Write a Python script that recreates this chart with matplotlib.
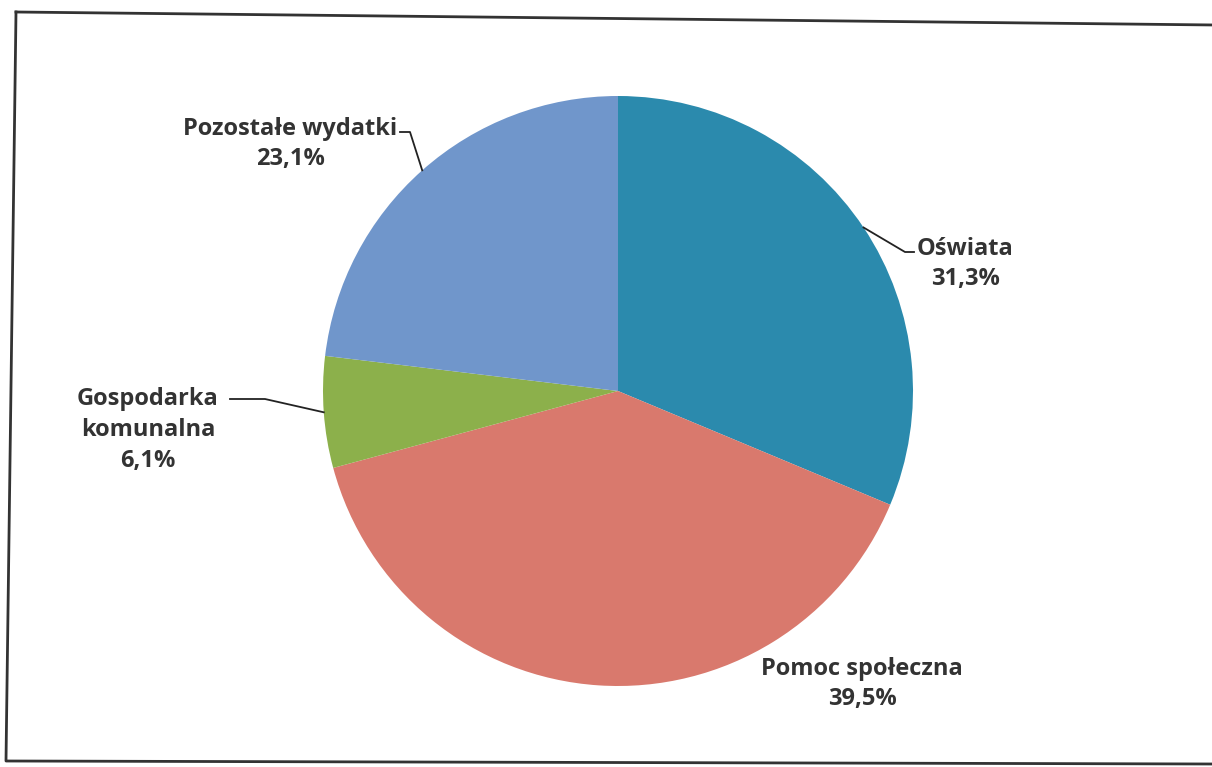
import numpy as np
from matplotlib import pyplot as plt

kategorie = ["Oświata", "Pomoc społeczna", "Gospodarka\nkomunalna", "Pozostałe wydatki"]
udzialy = [31.3, 39.5, 6.1, 23.1]
etykiety = ["31,3%", "39,5%", "6,1%", "23,1%"]
kolory = ["#2B8AAD", "#D9796D", "#8CB04B", "#7096CB"]

W, H = 1212, 767
fig = plt.figure(figsize=(W / 100, H / 100), dpi=100)
ax = fig.add_axes([0, 0, 1, 1])

cx, cy, r = 618, H - 391, 295
wedges, _ = ax.pie(udzialy, colors=kolory, startangle=90, counterclock=False,
                   center=(cx, cy), radius=r, frame=True,
                   wedgeprops=dict(linewidth=0))
ax.set_xlim(0, W)
ax.set_ylim(0, H)
ax.set_aspect("equal")
ax.axis("off")

# ramka ze skanu (lekko przekrzywiona)
ax.plot([16, 1215, 1215], [H - 12, H - 25, H - 25], color="#333333", lw=2)
ax.plot([16, 6, 1212], [H - 12, H - 761, H - 764], color="#333333", lw=2)

# pozycje etykiet (px od gory)
poz = [(965, 264), (862, 684), (148, 430), (290, 144)]
# koniec linii odniesienia przy tekscie
kotwice = [(905, 252, 914), None, (230, 399, 265), (400, 132, 410)]

for w, nazwa, proc, (tx, ty), k in zip(wedges, kategorie, etykiety, poz, kotwice):
    tekst = nazwa + "\n" + proc
    ax.text(tx, H - ty, tekst, ha="center", va="center", fontsize=17,
            fontweight="bold", color="#333333", family="Open Sans",
            linespacing=1.38)
    if k is None:
        continue
    kat = np.deg2rad((w.theta1 + w.theta2) / 2)
    ex, ey = cx + r * np.cos(kat), cy + r * np.sin(kat)
    if ex > cx:
        xs = [ex, k[0], k[2]]
    else:
        xs = [ex, k[2], k[0]]
    ys = [ey, H - k[1], H - k[1]]
    ax.plot(xs, ys, color="#222222", lw=1.3)

fig.savefig("out.png", dpi=100, facecolor="white")
